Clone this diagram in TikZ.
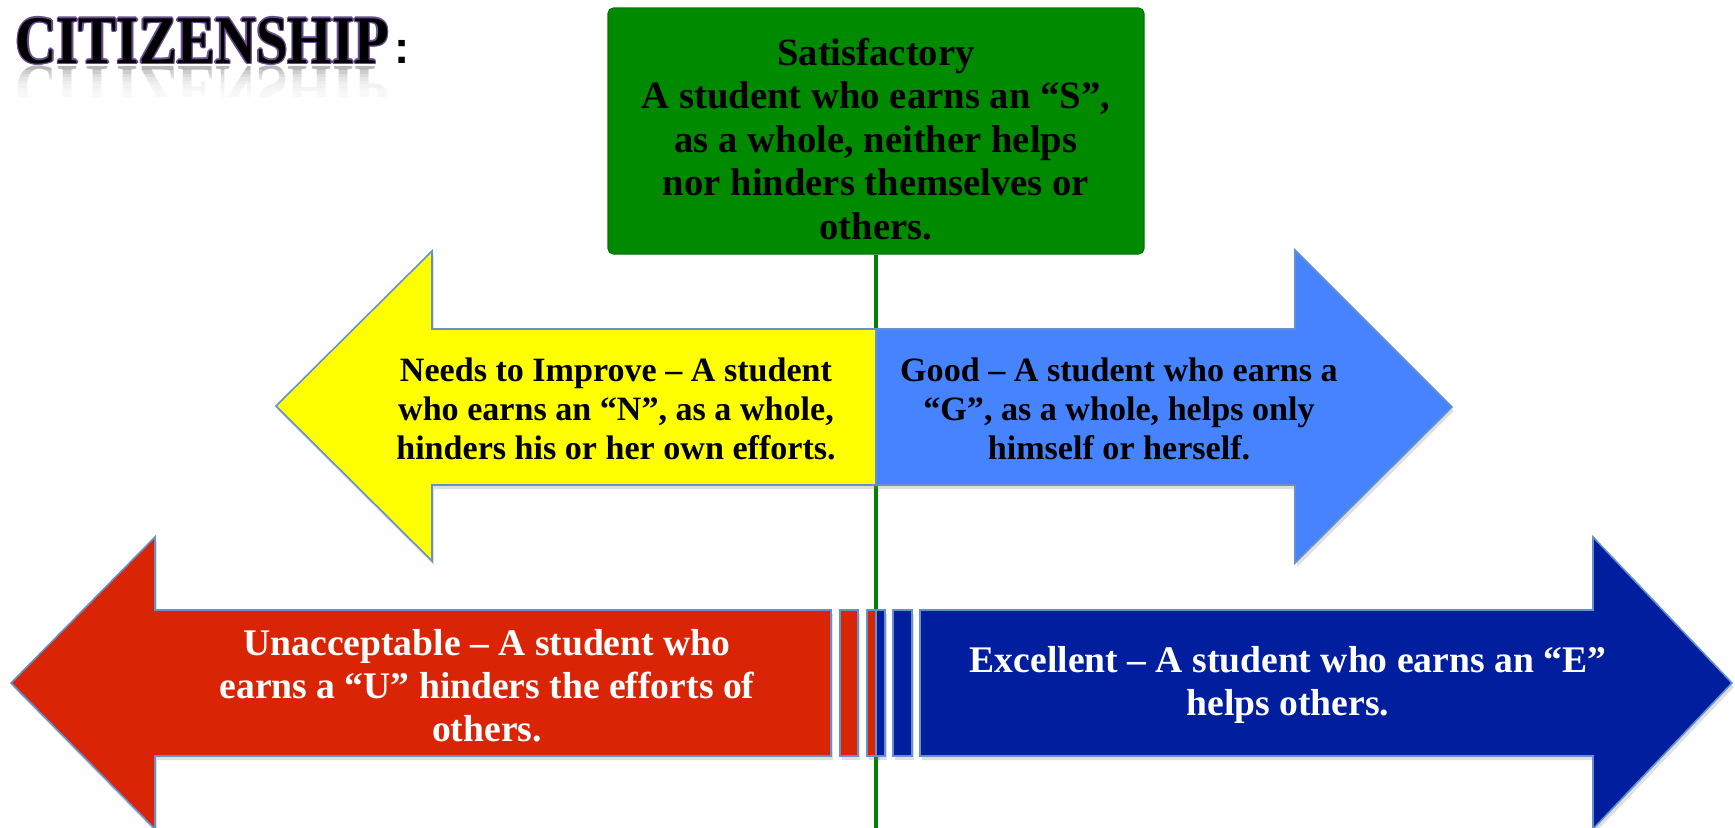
\documentclass[tikz,border=0pt]{standalone}
\usepackage{fontspec}
\setmainfont{Liberation Serif}
\newfontfamily\colonfont{Liberation Sans}
\usetikzlibrary{shadows}

\definecolor{satgreen}{RGB}{0,138,0}
\definecolor{linegreen}{RGB}{0,130,0}
\definecolor{nyellow}{RGB}{255,255,0}
\definecolor{gblue}{RGB}{70,131,255}
\definecolor{ured}{RGB}{217,36,6}
\definecolor{eblue}{RGB}{0,30,158}
\definecolor{edgeblue}{RGB}{100,145,205}
\definecolor{titlepurple}{RGB}{105,78,145}

\begin{document}
\begin{tikzpicture}[x=0.1mm, y=-0.1mm,
  arrowshape/.style={draw=edgeblue, line width=0.45pt, line join=miter,
    drop shadow={shadow xshift=0.5pt, shadow yshift=-1.2pt, opacity=0.25}},
  titlestyle/.style={anchor=base west, inner sep=0pt,
    font=\bfseries\fontsize{19.4}{20}\selectfont},
  smalltext/.style={align=center, inner sep=0pt,
    font=\bfseries\fontsize{9.7}{11.2}\selectfont},
  bigtext/.style={align=center, inner sep=0pt,
    font=\bfseries\fontsize{10.7}{12.2}\selectfont},
  satbox/.style={fill=satgreen, draw=satgreen!85!black, line width=0.3pt,
    rounded corners=1.5pt, minimum width=53.6mm, minimum height=24.6mm, inner sep=0pt},
  sattext/.style={align=center, inner sep=0pt,
    font=\bfseries\fontsize{11}{12.4}\selectfont}
]
\useasboundingbox (0,0) rectangle (1735,827);

% title outline
\foreach \dx/\dy [count=\k] in {-1.4/0, 1.4/0, 0/-1.4, 0/1.4, -1/-1, 1/1, -1/1, 1/-1}
  \node[titlestyle, text=titlepurple] (titleo\k) at (15+\dx,63+\dy) {\scalebox{0.835}[1]{CITIZENSHIP}};
\node[titlestyle, text=black] (title) at (15,63) {\scalebox{0.835}[1]{CITIZENSHIP}};
\node[anchor=base west, inner sep=0pt, font=\colonfont\bfseries\fontsize{13}{14}\selectfont] (colon) at (394,63) {:};
% reflection
\begin{scope}
  \clip (0,65) rectangle (430,96);
  \node[titlestyle, text=black!28, yscale=-1, transform shape] (titlerefl) at (15,66) {\scalebox{0.835}[1]{CITIZENSHIP}};
  \foreach \k in {0,...,6}
    \fill[white, opacity=0.3] (0,70+3.5*\k) rectangle (430,97);
\end{scope}

% green box and line
\node[satbox] (sat) at (876,131) {};
\coordinate (lineend) at (876,830);
\draw[linegreen, line width=1.4pt] (sat.south) -- (lineend);
\node[sattext] (sattxt) at (876,139) {Satisfactory\\A student who earns an “S”,\\as a whole, neither helps\\nor hinders themselves or\\others.};

% middle arrows
\path[arrowshape, fill=nyellow] (876,329) -- (432,329) -- (432,251) -- (276,406) -- (432,561) -- (432,485) -- (876,485) -- cycle;
\path[arrowshape, fill=gblue] (876,329) -- (1295,329) -- (1295,250) -- (1452,407) -- (1295,563) -- (1295,485) -- (876,485) -- cycle;
\node[smalltext] (ntext) at (616,409) {Needs to Improve – A student\\who earns an “N”, as a whole,\\hinders his or her own efforts.};
\node[smalltext] (gtext) at (1119,409) {Good – A student who earns a\\“G”, as a whole, helps only\\himself or herself.};

% bottom arrows
\path[arrowshape, fill=ured] (831,610) -- (155,610) -- (155,537) -- (11,683) -- (155,829) -- (155,756) -- (831,756) -- cycle;
\path[arrowshape, fill=ured] (840,610) rectangle (858,756);
\path[arrowshape, fill=ured] (867,610) rectangle (878,756);
\path[arrowshape, fill=eblue] (920,610) -- (1593,610) -- (1593,537) -- (1732,683) -- (1593,829) -- (1593,756) -- (920,756) -- cycle;
\path[arrowshape, fill=eblue] (876,610) rectangle (885,756);
\path[arrowshape, fill=eblue] (893,610) rectangle (912,756);
\node[bigtext, text=white] (utext) at (487,686) {Unacceptable – A student who\\earns a “U” hinders the efforts of\\others.};
\node[bigtext, text=white] (etext) at (1288,685) {Excellent – A student who earns an “E”\\helps others.};
\end{tikzpicture}
\end{document}
